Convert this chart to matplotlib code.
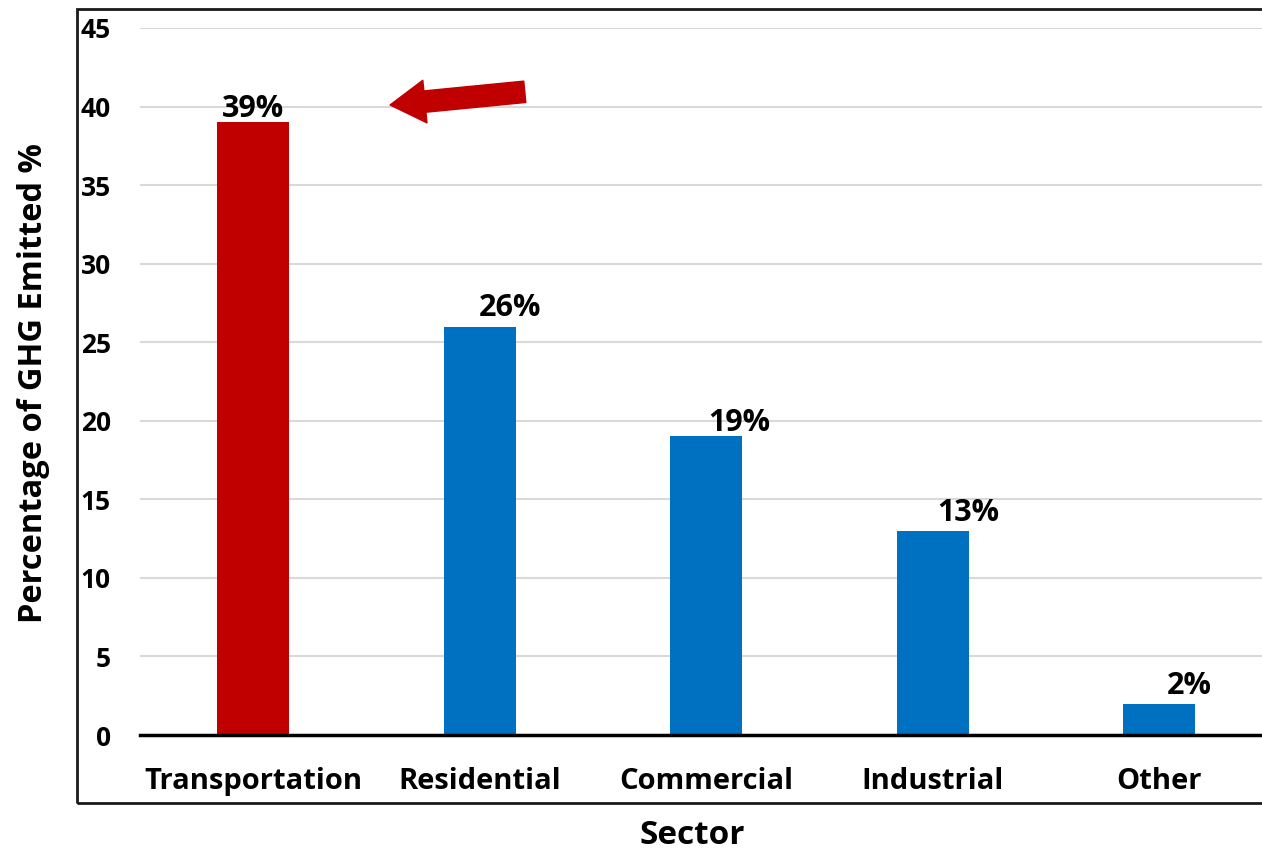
import matplotlib
matplotlib.use("Agg")
import matplotlib.pyplot as plt
from matplotlib.patches import Rectangle

sectors = ["Transportation", "Residential", "Commercial", "Industrial", "Other"]
ghg_share = [39, 26, 19, 13, 2]
value_labels = ["39%", "26%", "19%", "13%", "2%"]
yticks = [0, 5, 10, 15, 20, 25, 30, 35, 40, 45]

# label nudges (style only)
label_dx = [0.0, 0.132, 0.146, 0.155, 0.132]
label_dy = [0.32, 0.7, 0.38, 0.64, 0.64]

RED = "#C00000"
BLUE = "#0070C0"

plt.rcParams["font.family"] = ["Open Sans", "DejaVu Sans"]
plt.rcParams["font.weight"] = "bold"

W, H = 1262, 851
fig = plt.figure(figsize=(W / 100, H / 100), dpi=100)

# Excel-like chart area frame (right edge runs past the crop)
fig.patches.append(Rectangle((77 / W, 1 - 803 / H), 1.2, (803 - 9) / H,
                             transform=fig.transFigure, fill=False,
                             edgecolor="#1a1a1a", linewidth=2))

ax = fig.add_axes([140 / W, 1 - 735 / H, (1272.5 - 140) / W, (735 - 28) / H])
colors = [RED] + [BLUE] * (len(sectors) - 1)
x = list(range(len(sectors)))
ax.bar(x, ghg_share, width=0.32, color=colors, zorder=3)

for xi, v, lab, dx, dy in zip(x, ghg_share, value_labels, label_dx, label_dy):
    ax.text(xi + dx, v + dy, lab, ha="center", va="baseline",
            fontsize=22, fontweight="bold", zorder=4)

ax.set_xlim(-0.5, len(sectors) - 0.5)
ax.set_ylim(0, 45)
ax.set_yticks(yticks)
ax.set_yticklabels([str(t) for t in yticks], fontsize=19, fontweight="bold")
ax.set_xticks(x)
ax.set_xticklabels(sectors, fontsize=21, fontweight="bold")
ax.tick_params(axis="y", length=0, pad=21)
ax.tick_params(axis="x", length=0, pad=23)
ax.grid(axis="y", color="#d9d9d9", linewidth=1.5, zorder=0)
for s in ["top", "right", "left"]:
    ax.spines[s].set_visible(False)
ax.spines["bottom"].set_linewidth(2.5)
ax.spines["bottom"].set_zorder(5)

# block arrow pointing at the transportation bar
ax.annotate("", xy=(0.604, 40.1), xytext=(97, 9.5), textcoords="offset points",
            arrowprops=dict(arrowstyle="simple,head_length=0.9,head_width=1.1,tail_width=0.55",
                            mutation_scale=28, color=RED, shrinkA=0, shrinkB=0),
            annotation_clip=False, zorder=6)

fig.text(34 / W, 1 - 383 / H, "Percentage of GHG Emitted %", rotation=90,
         ha="center", va="center", fontsize=23.5, fontweight="bold")
fig.text(692 / W, 1 - 835 / H, "Sector", ha="center", va="center",
         fontsize=24, fontweight="bold")

fig.savefig("out.png", dpi=100)
